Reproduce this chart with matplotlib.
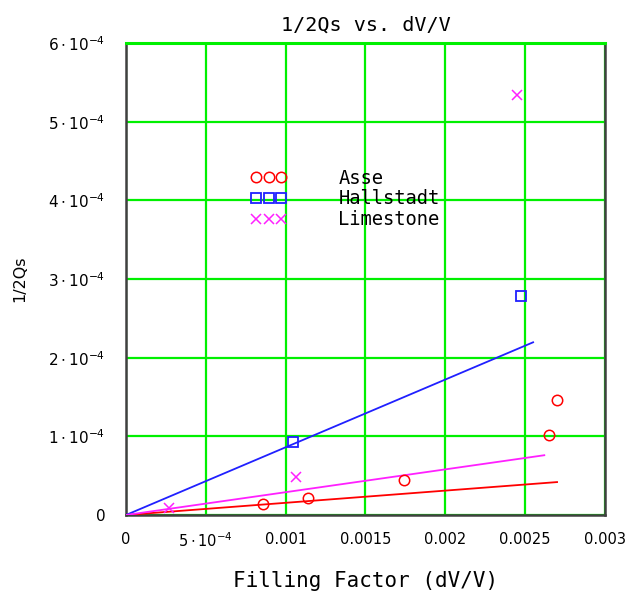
import numpy as np
import matplotlib
matplotlib.use("Agg")
import matplotlib.pyplot as plt

# measured points
asse_x = [0.000858, 0.00114, 0.00174, 0.00265, 0.0027]
asse_y = [1.4e-5, 2.16e-5, 4.45e-5, 1.02e-4, 1.46e-4]
hall_x = [0.001046, 0.002474]
hall_y = [9.3e-5, 2.78e-4]
lime_x = [0.000269, 0.001065, 0.002449]
lime_y = [8.9e-6, 4.8e-5, 5.34e-4]

# fitted lines through origin: slope and end of line
fit_slopes = {'Asse': 0.0155, 'Hallstadt': 0.0861, 'Limestone': 0.029}
fit_ends = {'Asse': 0.0027, 'Hallstadt': 0.00255, 'Limestone': 0.00262}

x_ticks = [0, 0.0005, 0.001, 0.0015, 0.002, 0.0025, 0.003]
x_labels = ['0', r'$5\cdot10^{-4}$', '0.001', '0.0015', '0.002', '0.0025', '0.003']
y_ticks = [0, 1e-4, 2e-4, 3e-4, 4e-4, 5e-4, 6e-4]
y_labels = ['0'] + [r'$%d\cdot10^{-4}$' % i for i in range(1, 7)]

plt.rcParams['mathtext.fontset'] = 'dejavusans'
mono = 'DejaVu Sans Mono'

fig = plt.figure(figsize=(6.32, 5.91), dpi=100)
ax = fig.add_axes([0.1994, 0.1286, 0.7578, 0.7986])

green = '#00f000'
ax.set_xlim(0, 0.003)
ax.set_ylim(0, 6e-4)
ax.set_xticks(x_ticks)
ax.set_xticklabels(x_labels)
ax.set_yticks(y_ticks)
ax.set_yticklabels(y_labels)
ax.tick_params(axis='x', length=0, labelsize=10.5, pad=12)
ax.tick_params(axis='y', length=0, labelsize=11, pad=15)
ax.grid(True, color=green, linewidth=1.6, zorder=1)
ax.set_axisbelow(True)
for s in ['left', 'right', 'bottom']:
    ax.spines[s].set_color('#404040')
    ax.spines[s].set_linewidth(1.8)
ax.spines['top'].set_color(green)
ax.spines['top'].set_linewidth(2.2)

colors = {'Asse': 'red', 'Hallstadt': '#2020ff', 'Limestone': '#ff20ff'}
for name in ['Asse', 'Hallstadt', 'Limestone']:
    xs = np.array([0, fit_ends[name]])
    ax.plot(xs, fit_slopes[name] * xs, color=colors[name], linewidth=1.3, zorder=3)

h1, = ax.plot(asse_x, asse_y, 'o', mfc='none', mec='red', ms=7.5, mew=1.1, zorder=4, label='Asse')
h2, = ax.plot(hall_x, hall_y, 's', mfc='none', mec='#2020ff', ms=7, mew=1.3, zorder=4, label='Hallstadt')
h3, = ax.plot(lime_x, lime_y, 'x', color='#ff20ff', ms=7, mew=1.1, zorder=4, label='Limestone')

leg = ax.legend(handles=[h1, h2, h3], numpoints=3, frameon=False,
                loc='upper left', bbox_to_anchor=(0.244, 0.750), borderaxespad=0,
                handlelength=1.94, handletextpad=2.75, labelspacing=0.1,
                prop={'family': mono, 'size': 13.5})
leg.set_zorder(5)

ax.set_title('1/2Qs vs. dV/V', family=mono, fontsize=14.5, pad=9)
ax.set_xlabel('Filling Factor (dV/V)', family=mono, fontsize=15, labelpad=15)
ax.set_ylabel('1/2Qs', fontsize=11.5)
ax.yaxis.set_label_coords(-0.207, 0.5)

fig.savefig('out.png', dpi=100)
